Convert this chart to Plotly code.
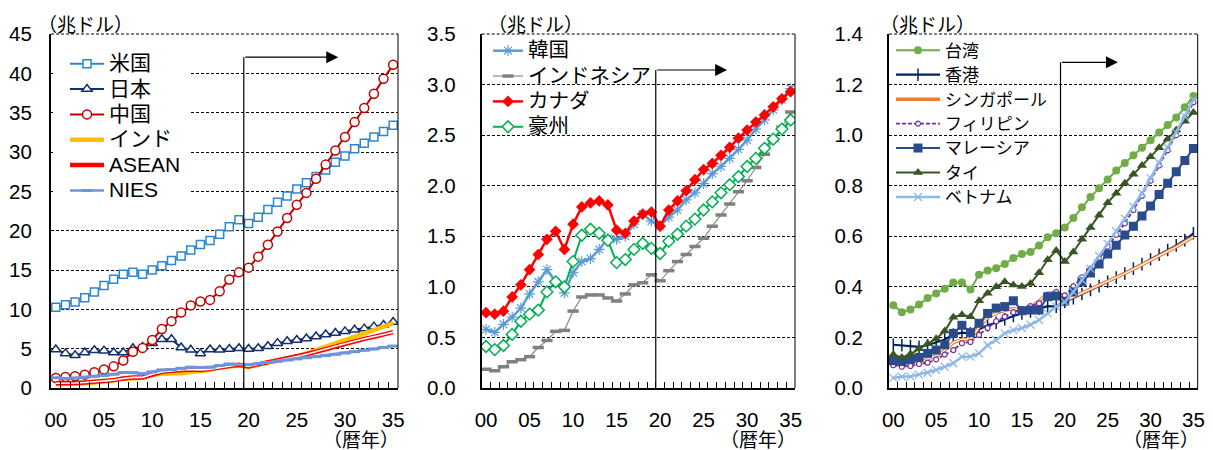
import plotly.graph_objects as go

# ---------------- data ----------------
YEARS = list(range(2000, 2036))
X_TICK_VALUES = [2000, 2005, 2010, 2015, 2020, 2025, 2030, 2035]
X_TICK_LABELS = ["00", "05", "10", "15", "20", "25", "30", "35"]

# left panel (trillion USD)
US = [10.25, 10.58, 10.94, 11.46, 12.21, 13.04, 13.81, 14.45, 14.71, 14.45, 14.99, 15.54, 16.2, 16.78, 17.53, 18.24,
      18.75, 19.54, 20.5, 21.4, 20.9, 21.7, 22.7, 23.6, 24.4, 25.3, 26.1, 26.9, 27.7, 28.7, 29.5, 30.4, 31.1, 31.9,
      32.6, 33.4]
JAPAN = [4.9, 4.4, 4.15, 4.5, 4.8, 4.75, 4.5, 4.5, 5.05, 5.2, 5.7, 6.2, 6.2, 5.15, 4.85, 4.4, 4.9, 4.85, 4.95, 5.05,
         4.95, 5.05, 5.3, 5.7, 5.95, 6.1, 6.3, 6.55, 6.8, 7.0, 7.2, 7.4, 7.55, 7.8, 8.0, 8.4]
CHINA = [1.27, 1.4, 1.5, 1.7, 2.0, 2.35, 2.75, 3.5, 4.6, 5.1, 6.1, 7.5, 8.5, 9.6, 10.5, 11.0, 11.2, 12.3, 13.8, 14.7,
         15.3, 16.7, 18.2, 19.9, 21.6, 23.3, 24.8, 26.6, 28.4, 30.2, 31.9, 33.8, 35.6, 37.4, 39.3, 41.1]
INDIA = [0.47, 0.49, 0.52, 0.6, 0.7, 0.82, 0.94, 1.22, 1.2, 1.34, 1.68, 1.82, 1.83, 1.86, 2.04, 2.1, 2.29, 2.65, 2.7,
         2.87, 2.67, 3.0, 3.25, 3.5, 3.75, 4.0, 4.4, 4.8, 5.2, 5.65, 6.1, 6.5, 6.9, 7.35, 7.8, 8.2]
ASEAN = [0.6, 0.58, 0.63, 0.7, 0.78, 0.88, 1.0, 1.2, 1.35, 1.35, 1.75, 2.05, 2.2, 2.3, 2.35, 2.3, 2.4, 2.6, 2.8, 2.95,
         2.75, 3.0, 3.2, 3.45, 3.7, 4.0, 4.3, 4.6, 4.95, 5.3, 5.65, 5.95, 6.25, 6.5, 6.8, 7.1]
NIES = [1.3, 1.22, 1.28, 1.38, 1.5, 1.6, 1.75, 1.97, 1.95, 1.8, 2.05, 2.3, 2.35, 2.5, 2.65, 2.6, 2.65, 2.85, 3.05, 3.0,
        2.95, 3.1, 3.25, 3.4, 3.55, 3.7, 3.85, 3.98, 4.12, 4.28, 4.45, 4.62, 4.8, 4.97, 5.15, 5.33]

# middle panel
KOREA = [0.58, 0.55, 0.63, 0.7, 0.79, 0.93, 1.05, 1.17, 1.05, 0.94, 1.14, 1.25, 1.28, 1.37, 1.48, 1.47, 1.5, 1.62,
         1.72, 1.65, 1.6, 1.69, 1.76, 1.86, 1.93, 2.02, 2.12, 2.19, 2.27, 2.36, 2.45, 2.56, 2.65, 2.75, 2.85, 2.96]
INDONESIA = [0.185, 0.17, 0.21, 0.26, 0.28, 0.31, 0.4, 0.47, 0.56, 0.57, 0.76, 0.9, 0.92, 0.92, 0.89, 0.86, 0.93,
             1.02, 1.04, 1.12, 1.06, 1.16, 1.25, 1.32, 1.4, 1.48, 1.6, 1.71, 1.82, 1.94, 2.05, 2.18, 2.31, 2.45, 2.58,
             2.73]
CANADA = [0.745, 0.73, 0.76, 0.9, 1.02, 1.17, 1.32, 1.47, 1.55, 1.37, 1.62, 1.79, 1.83, 1.85, 1.81, 1.56, 1.53, 1.65,
          1.72, 1.74, 1.6, 1.76, 1.85, 1.95, 2.06, 2.16, 2.22, 2.3, 2.38, 2.47, 2.55, 2.63, 2.7, 2.78, 2.86, 2.93]
AUSTRALIA = [0.41, 0.38, 0.42, 0.53, 0.66, 0.73, 0.77, 0.95, 1.05, 1.0, 1.25, 1.51, 1.57, 1.53, 1.46, 1.24, 1.27,
             1.37, 1.43, 1.38, 1.33, 1.45, 1.52, 1.6, 1.67, 1.76, 1.84, 1.93, 2.01, 2.09, 2.19, 2.27, 2.37, 2.46, 2.56,
             2.65]

# right panel
TAIWAN = [0.327, 0.30, 0.31, 0.33, 0.356, 0.374, 0.393, 0.417, 0.417, 0.39, 0.448, 0.465, 0.474, 0.49, 0.514, 0.53,
          0.538, 0.564, 0.596, 0.612, 0.635, 0.672, 0.715, 0.755, 0.79, 0.825, 0.86, 0.89, 0.92, 0.95, 0.98, 1.01,
          1.04, 1.07, 1.11, 1.155]
HONGKONG = [0.171, 0.169, 0.166, 0.163, 0.169, 0.179, 0.192, 0.211, 0.219, 0.216, 0.232, 0.248, 0.258, 0.272, 0.285,
            0.295, 0.303, 0.314, 0.324, 0.322, 0.34, 0.355, 0.372, 0.388, 0.403, 0.42, 0.437, 0.453, 0.472, 0.49,
            0.509, 0.527, 0.546, 0.564, 0.585, 0.612]
SINGAPORE = [0.096, 0.09, 0.092, 0.097, 0.115, 0.127, 0.148, 0.18, 0.192, 0.194, 0.24, 0.279, 0.295, 0.307, 0.314,
             0.308, 0.319, 0.343, 0.376, 0.375, 0.345, 0.36, 0.375, 0.39, 0.405, 0.42, 0.437, 0.453, 0.47, 0.487,
             0.504, 0.522, 0.54, 0.558, 0.578, 0.598]
PHILIPPINES = [0.09, 0.084, 0.087, 0.095, 0.1, 0.113, 0.132, 0.15, 0.177, 0.182, 0.21, 0.237, 0.264, 0.282, 0.3,
               0.312, 0.324, 0.335, 0.366, 0.38, 0.366, 0.403, 0.438, 0.472, 0.511, 0.559, 0.606, 0.651, 0.704, 0.76,
               0.82, 0.88, 0.94, 1.0, 1.065, 1.13]
MALAYSIA = [0.108, 0.105, 0.113, 0.121, 0.137, 0.15, 0.171, 0.216, 0.248, 0.219, 0.256, 0.295, 0.316, 0.322, 0.345,
            0.306, 0.308, 0.308, 0.361, 0.364, 0.343, 0.38, 0.42, 0.455, 0.49, 0.53, 0.565, 0.605, 0.64, 0.68, 0.72,
            0.765, 0.81, 0.855, 0.90, 0.947]
THAILAND = [0.132, 0.121, 0.134, 0.155, 0.175, 0.195, 0.225, 0.28, 0.29, 0.282, 0.345, 0.375, 0.4, 0.42, 0.407, 0.401,
            0.413, 0.456, 0.507, 0.544, 0.5, 0.538, 0.588, 0.635, 0.683, 0.733, 0.77, 0.81, 0.845, 0.88, 0.915, 0.95,
            0.985, 1.02, 1.055, 1.09]
VIETNAM = [0.04, 0.045, 0.045, 0.053, 0.06, 0.071, 0.084, 0.098, 0.124, 0.124, 0.137, 0.169, 0.19, 0.216, 0.229,
           0.237, 0.25, 0.269, 0.295, 0.322, 0.34, 0.38, 0.427, 0.472, 0.522, 0.57, 0.62, 0.67, 0.717, 0.77, 0.83,
           0.89, 0.95, 1.01, 1.075, 1.14]

Y_LEFT_TICKS = [0, 5, 10, 15, 20, 25, 30, 35, 40, 45]
Y_MID_TICKS = [0.0, 0.5, 1.0, 1.5, 2.0, 2.5, 3.0, 3.5]
Y_RIGHT_TICKS = [0.0, 0.2, 0.4, 0.6, 0.8, 1.0, 1.2, 1.4]

UNIT_LABEL = "（兆ドル）"
YEAR_LABEL = "（暦年）"

# ---------------- layout helpers ----------------
W, H = 1213, 450
FONT = "Liberation Sans, Arial, Noto Sans CJK JP, sans-serif"
PLOT_TOP, PLOT_BOTTOM = 34, 388
PANELS = [
    dict(x0=51, x1=398, ymax=45, ticks=Y_LEFT_TICKS, fmt="d", standoff=13, arrow_y=42.06, arrow_end=2029.3,
         unit_x=36),
    dict(x0=481.7, x1=795, ymax=3.5, ticks=Y_MID_TICKS, fmt=".1f", standoff=20, arrow_y=3.144, arrow_end=2027.7,
         unit_x=486),
    dict(x0=889, x1=1197.7, ymax=1.4, ticks=Y_RIGHT_TICKS, fmt=".1f", standoff=20, arrow_y=1.288, arrow_end=2026.2,
         unit_x=878),
]
SPLIT_YEAR = 2019.5

fig = go.Figure()


def label(name, size):
    return f"<span style='font-size:{size}px'>{name}</span>"


def add(panel, name, y, legend, color, width=2, marker=None, dash=None, double=None, size=21):
    i = panel + 1
    xa = "x" if i == 1 else f"x{i}"
    ya = "y" if i == 1 else f"y{i}"
    if double:
        fig.add_trace(go.Scatter(x=YEARS, y=y, name=label(name, size), mode="lines", xaxis=xa, yaxis=ya,
                                 legend=legend, line=dict(color=color, width=width)))
        fig.add_trace(go.Scatter(x=YEARS, y=y, mode="lines", xaxis=xa, yaxis=ya, showlegend=False,
                                 line=dict(color="white", width=double), hoverinfo="skip"))
        return
    fig.add_trace(go.Scatter(x=YEARS, y=y, name=label(name, size), mode="lines+markers" if marker else "lines",
                             xaxis=xa, yaxis=ya, legend=legend,
                             line=dict(color=color, width=width, dash=dash),
                             marker=marker))


# left
LS = 21
add(0, "米国", US, "legend", "#2E86D0", 2,
    dict(symbol="square", size=8, color="white", line=dict(color="#2E86D0", width=1.5)), size=LS)
add(0, "日本", JAPAN, "legend", "#13306E", 2,
    dict(symbol="triangle-up", size=9, color="white", line=dict(color="#13306E", width=1.5)), size=LS)
add(0, "中国", CHINA, "legend", "#C00000", 2,
    dict(symbol="circle", size=9, color="white", line=dict(color="#C00000", width=1.5)), size=LS)
add(0, "インド", INDIA, "legend", "#FFC000", 4.5, size=LS)
add(0, "ASEAN", ASEAN, "legend", "#FF0000", 4.5, double=1.6, size=LS)
add(0, "NIES", NIES, "legend", "#7094DB", 2.5,
    dict(symbol="line-ew", size=8, color="#7094DB", line=dict(color="#7094DB", width=3)), size=LS)

# middle
MS = 20.5
add(1, "韓国", KOREA, "legend2", "#5B9BD5", 2.5,
    dict(symbol="asterisk", size=9, color="#5B9BD5", line=dict(color="#5B9BD5", width=1.2)), size=MS)
add(1, "インドネシア", INDONESIA, "legend2", "#8C8C8C", 1.2,
    dict(symbol="line-ew", size=8, color="#808080", line=dict(color="#808080", width=3.5)), size=MS)
add(1, "カナダ", CANADA, "legend2", "#FF0000", 2.5,
    dict(symbol="diamond", size=9, color="#FF0000", line=dict(color="#FF0000", width=0)), size=MS)
add(1, "豪州", AUSTRALIA, "legend2", "#00B050", 2,
    dict(symbol="diamond", size=9, color="white", line=dict(color="#00B050", width=1.5)), size=MS)

# right
RS = 17
add(2, "台湾", TAIWAN, "legend3", "#70AD47", 2,
    dict(symbol="circle", size=8, color="#70AD47", line=dict(width=0)), size=RS)
add(2, "香港", HONGKONG, "legend3", "#002060", 2.2,
    dict(symbol="line-ns", size=9, color="#002060", line=dict(color="#002060", width=1.5)), size=RS)
add(2, "シンガポール", SINGAPORE, "legend3", "#ED7D31", 3.5, double=1.2, size=RS)
add(2, "フィリピン", PHILIPPINES, "legend3", "#7030A0", 1.8,
    dict(symbol="circle", size=5, color="white", line=dict(color="#7030A0", width=1.2)), dash="4px,2px", size=RS)
add(2, "マレーシア", MALAYSIA, "legend3", "#2B4C8C", 2,
    dict(symbol="square", size=9, color="#2B4C8C", line=dict(width=0)), size=RS)
add(2, "タイ", THAILAND, "legend3", "#375623", 2,
    dict(symbol="triangle-up", size=9, color="#375623", line=dict(width=0)), size=RS)
add(2, "ベトナム", VIETNAM, "legend3", "#8DB8E8", 2.5,
    dict(symbol="x-thin", size=8, color="#8DB8E8", line=dict(color="#8DB8E8", width=1.3)), size=RS)

layout = dict(width=W, height=H, autosize=False, margin=dict(l=0, r=0, t=0, b=0, pad=0, autoexpand=False),
              paper_bgcolor="white", plot_bgcolor="white", font=dict(family=FONT, color="black"),
              showlegend=True)
shapes, annotations = [], []
minor_vals = [y + 0.5 for y in YEARS[:-1]]
ydom = [1 - PLOT_BOTTOM / H, 1 - PLOT_TOP / H]
for k, p in enumerate(PANELS):
    i = k + 1
    sfx = "" if i == 1 else str(i)
    layout[f"xaxis{sfx}"] = dict(
        domain=[p["x0"] / W, p["x1"] / W], range=[1999.5, 2035.5], anchor=f"y{sfx}", automargin=False,
        tickmode="array", tickvals=X_TICK_VALUES, ticktext=X_TICK_LABELS, ticks="",
        showline=True, linewidth=2, linecolor="black", showgrid=False, zeroline=False,
        tickfont=dict(size=20.5, family=FONT), ticklabelstandoff=12,
        minor=dict(tickmode="array", tickvals=minor_vals, ticks="inside", ticklen=6, tickwidth=1,
                   tickcolor="black", showgrid=False))
    layout[f"yaxis{sfx}"] = dict(
        domain=ydom, range=[0, p["ymax"]], anchor=f"x{sfx}", tickmode="array", tickvals=p["ticks"],
        tickformat=p["fmt"], ticks="", showline=True, linewidth=2, linecolor="black", automargin=False,
        showgrid=True, gridcolor="black", gridwidth=1, griddash="3px,2px", zeroline=False,
        tickfont=dict(size=20.5, family=FONT), ticklabelstandoff=p["standoff"])
    xr = "x" + sfx
    yr = "y" + sfx
    shapes.append(dict(type="line", xref=f"{xr} domain", yref=f"{yr} domain", x0=0, x1=1, y0=1, y1=1,
                       line=dict(color="black", width=1, dash="3px,2px")))
    shapes.append(dict(type="line", xref=f"{xr} domain", yref=f"{yr} domain", x0=1, x1=1, y0=0, y1=1,
                       line=dict(color="black", width=1)))
    shapes.append(dict(type="line", xref=xr, yref=yr, x0=SPLIT_YEAR, x1=SPLIT_YEAR, y0=0, y1=p["arrow_y"],
                       line=dict(color="black", width=1.2)))
    annotations.append(dict(x=p["arrow_end"], y=p["arrow_y"], ax=SPLIT_YEAR, ay=p["arrow_y"], xref=xr, yref=yr,
                            axref=xr, ayref=yr, text="", showarrow=True, arrowhead=2, arrowsize=2,
                            arrowwidth=1.2, arrowcolor="black"))
    annotations.append(dict(x=p["unit_x"] / W, y=1 - 25 / H, xref="paper", yref="paper", text=UNIT_LABEL,
                            showarrow=False, xanchor="left", yanchor="middle", font=dict(size=19, family=FONT)))
    annotations.append(dict(x=(p["x1"] + 3) / W, y=1 - 440 / H, xref="paper", yref="paper", text=YEAR_LABEL,
                            showarrow=False, xanchor="right", yanchor="middle", font=dict(size=19, family=FONT)))

# white backing behind the left legend (hides the grid lines there, like the original)
shapes.append(dict(type="rect", xref="paper", yref="paper", x0=53 / W, x1=189 / W, y0=1 - 205 / H, y1=1 - 35.5 / H,
                   fillcolor="white", line=dict(width=0), layer="above"))

layout["shapes"] = shapes
layout["annotations"] = annotations
leg_font = dict(size=17.2, family=FONT, color="black")
layout["legend"] = dict(x=65 / W, y=1 - 46 / H, xanchor="left", yanchor="top", bgcolor="rgba(0,0,0,0)",
                        borderwidth=0, font=leg_font, tracegroupgap=0, itemwidth=34)
layout["legend2"] = dict(x=488 / W, y=1 - 33 / H, xanchor="left", yanchor="top", bgcolor="rgba(0,0,0,0)",
                         borderwidth=0, font=leg_font, tracegroupgap=0)
layout["legend3"] = dict(x=891 / W, y=1 - 33 / H, xanchor="left", yanchor="top", bgcolor="rgba(0,0,0,0)",
                         borderwidth=0, font=dict(size=16.5, family=FONT, color="black"), tracegroupgap=0,
                         itemwidth=44)

fig.update_layout(**layout)
fig.write_html("out.html", config={"displayModeBar": False},
               post_script="document.body.style.margin='0';")
